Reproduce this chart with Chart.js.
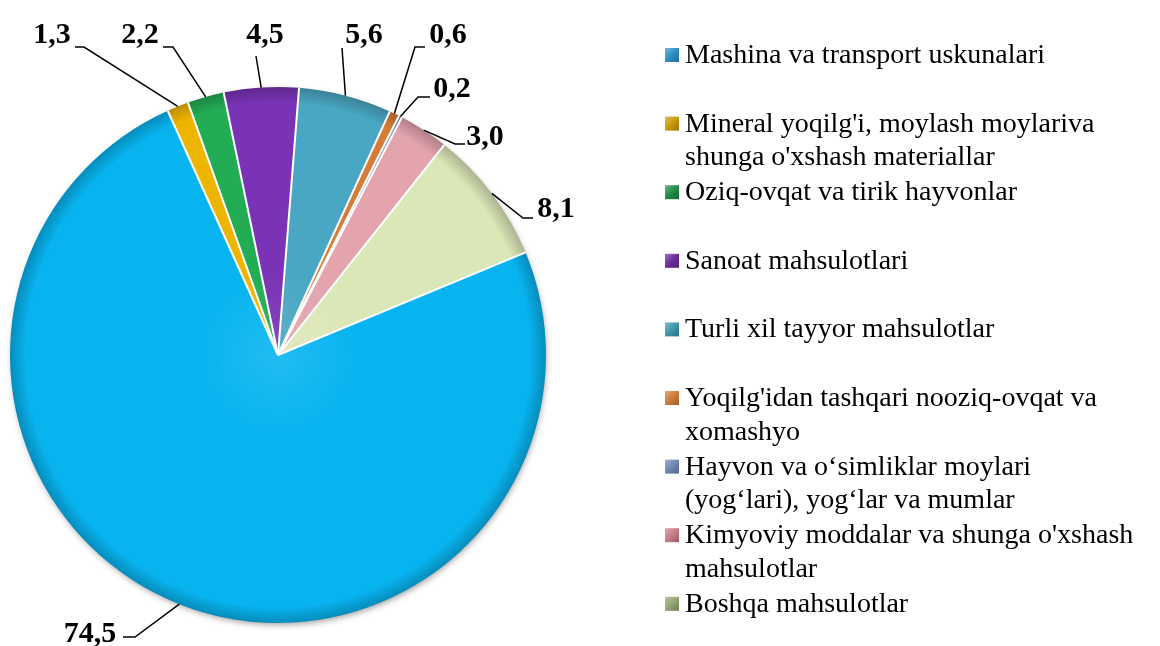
<!DOCTYPE html>
<html><head><meta charset="utf-8">
<script src="https://cdn.jsdelivr.net/npm/chart.js@4.4.1/dist/chart.umd.min.js"></script>
<style>html,body{margin:0;padding:0;background:#fff;overflow:hidden}#wrap{width:1160px;height:646px;position:relative}</style>
</head><body><div id="wrap"><canvas id="c"></canvas></div>
<script>
// ---- data ----
const categories = [
  ["Mashina va transport uskunalari"],
  ["Mineral yoqilg'i, moylash moylariva", "shunga o'xshash materiallar"],
  ["Oziq-ovqat va tirik hayvonlar"],
  ["Sanoat mahsulotlari"],
  ["Turli xil tayyor mahsulotlar"],
  ["Yoqilg'idan tashqari nooziq-ovqat va", "xomashyo"],
  ["Hayvon va o\u2018simliklar moylari", "(yog\u2018lari), yog\u2018lar va mumlar"],
  ["Kimyoviy moddalar va shunga o'xshash", "mahsulotlar"],
  ["Boshqa mahsulotlar"]
];
const shares = [74.5, 1.3, 2.2, 4.5, 5.6, 0.6, 0.2, 3.0, 8.1];

// ---- styles ----
const sliceColors  = ["#08b4f0", "#eeb500", "#22ad55", "#7a33b6", "#4aa7c3", "#d67c35", "#7f95c0", "#e3a4ae", "#dce7b8"];
const markerColors = ["#2a8fc4", "#c99a06", "#1f8c47", "#6a2c9c", "#3f96ad", "#d07a38", "#6e86b2", "#c67c84", "#93a672"];

// label layout (text centre x, baseline y, leader line points near the text)
const labelLayout = [
  {x: 90,  y: 642, pts: [[123,637],[135,637]]},
  {x: 52,  y: 43,  pts: [[75,47],[84,47]]},
  {x: 140, y: 43,  pts: [[163,47],[173,47]]},
  {x: 265, y: 43,  pts: [[256,56]]},
  {x: 364, y: 43,  pts: [[342,48]]},
  {x: 448, y: 43,  pts: [[425,47],[415,47]]},
  {x: 452, y: 97,  pts: [[430,97],[418,97]]},
  {x: 485, y: 145, pts: [[465,144],[455,144]]},
  {x: 556, y: 217, pts: [[533,218],[523,218]]}
];

function shade(hex, f) {
  const n = parseInt(hex.slice(1), 16);
  let r = (n >> 16) & 255, g = (n >> 8) & 255, b = n & 255;
  if (f >= 0) { r += (255 - r) * f; g += (255 - g) * f; b += (255 - b) * f; }
  else { r *= (1 + f); g *= (1 + f); b *= (1 + f); }
  return `rgb(${Math.round(r)},${Math.round(g)},${Math.round(b)})`;
}

function sliceFill(c) {
  const chart = c.chart, a = chart.chartArea;
  const base = sliceColors[c.dataIndex];
  if (!a) return base;
  const cx = (a.left + a.right) / 2, cy = (a.top + a.bottom) / 2;
  const r = Math.min(a.right - a.left, a.bottom - a.top) / 2;
  const g = chart.ctx.createRadialGradient(cx, cy, 0, cx, cy, r);
  g.addColorStop(0, shade(base, 0.1));
  g.addColorStop(0.3, base);
  g.addColorStop(0.94, base);
  g.addColorStop(1, shade(base, -0.22));
  return g;
}

const shadowPlugin = {
  id: 'pieShadow',
  beforeDatasetsDraw(chart) {
    const arc = chart.getDatasetMeta(0).data[0];
    if (!arc) return;
    const ctx = chart.ctx;
    ctx.save();
    ctx.shadowColor = 'rgba(0,0,0,0.45)';
    ctx.shadowBlur = 7;
    ctx.shadowOffsetX = 1;
    ctx.shadowOffsetY = 3;
    ctx.fillStyle = '#ffffff';
    ctx.beginPath();
    ctx.arc(arc.x, arc.y, arc.outerRadius - 2, 0, Math.PI * 2);
    ctx.fill();
    ctx.restore();
  }
};

// white separators between slices (radial edges only, no outer rim)
const separatorPlugin = {
  id: 'separators',
  afterDatasetsDraw(chart) {
    const ctx = chart.ctx;
    const meta = chart.getDatasetMeta(0);
    ctx.save();
    ctx.strokeStyle = '#ffffff';
    ctx.lineWidth = 2;
    ctx.lineCap = 'butt';
    meta.data.forEach(arc => {
      const p = arc.getProps(['x','y','startAngle','outerRadius'], true);
      ctx.beginPath();
      ctx.moveTo(p.x, p.y);
      ctx.lineTo(p.x + Math.cos(p.startAngle) * p.outerRadius, p.y + Math.sin(p.startAngle) * p.outerRadius);
      ctx.stroke();
    });
    ctx.restore();
  }
};

const labelPlugin = {
  id: 'valueLabels',
  afterDatasetsDraw(chart) {
    const ctx = chart.ctx;
    const meta = chart.getDatasetMeta(0);
    ctx.save();
    meta.data.forEach((arc, i) => {
      const p = arc.getProps(['x','y','startAngle','endAngle','outerRadius'], true);
      const mid = (p.startAngle + p.endAngle) / 2;
      const ax = p.x + Math.cos(mid) * p.outerRadius;
      const ay = p.y + Math.sin(mid) * p.outerRadius;
      const L = labelLayout[i];
      ctx.strokeStyle = '#000';
      ctx.lineWidth = 1.5;
      ctx.beginPath();
      ctx.moveTo(L.pts[0][0], L.pts[0][1]);
      for (let k = 1; k < L.pts.length; k++) ctx.lineTo(L.pts[k][0], L.pts[k][1]);
      ctx.lineTo(ax, ay);
      ctx.stroke();
      ctx.fillStyle = '#000';
      ctx.font = 'bold 30px "Liberation Serif", "Times New Roman", serif';
      ctx.textAlign = 'center';
      ctx.textBaseline = 'alphabetic';
      ctx.fillText(shares[i].toFixed(1).replace('.', ','), L.x, L.y);
    });
    ctx.restore();
  }
};

const legendPlugin = {
  id: 'sideLegend',
  afterDraw(chart) {
    const ctx = chart.ctx;
    const bx = 665, box = 14, tx = 685, base0 = 63, step = 68.6, lh = 33.5;
    ctx.save();
    ctx.font = '28px "Liberation Serif", "Times New Roman", serif';
    ctx.textAlign = 'left';
    ctx.textBaseline = 'alphabetic';
    chart.data.labels.forEach((lines, i) => {
      const by = base0 + i * step;
      const col = markerColors[i];
      const top = by - 15;
      const g = ctx.createLinearGradient(bx, top, bx + box, top + box);
      g.addColorStop(0, shade(col, 0.35));
      g.addColorStop(0.5, col);
      g.addColorStop(1, shade(col, -0.25));
      ctx.fillStyle = g;
      ctx.fillRect(bx, top, box, box);
      ctx.fillStyle = '#000';
      lines.forEach((t, j) => ctx.fillText(t, tx, by + j * lh));
    });
    ctx.restore();
  }
};

new Chart(document.getElementById('c'), {
  type: 'pie',
  data: {
    labels: categories,
    datasets: [{
      data: shares,
      backgroundColor: sliceFill,
      borderWidth: 0,
      offset: 0
    }]
  },
  options: {
    responsive: true,
    maintainAspectRatio: false,
    animation: false,
    rotation: 67.5,
    layout: { padding: { left: 10, top: 87, right: 614, bottom: 23 } },
    plugins: { legend: { display: false }, tooltip: { enabled: false } }
  },
  plugins: [shadowPlugin, separatorPlugin, labelPlugin, legendPlugin]
});
</script></body></html>
